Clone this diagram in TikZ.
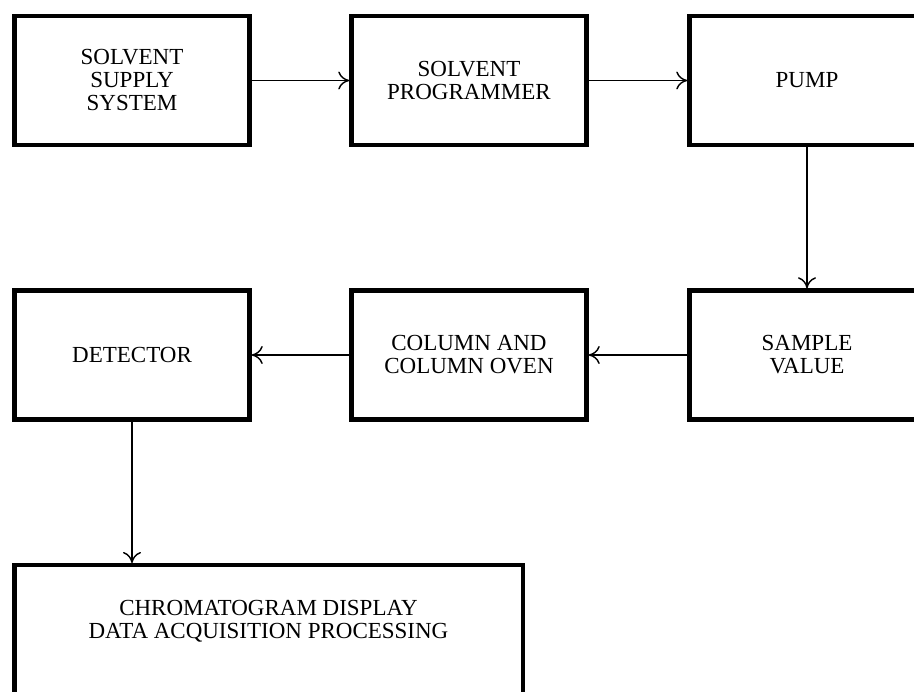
\documentclass[tikz,border=0pt]{standalone}
\usepackage{fontspec}
\setmainfont{Liberation Serif}
\usetikzlibrary{arrows.meta}
\begin{document}
\begin{tikzpicture}[x=1pt,y=-1pt,
  boxlook/.style={line width=4.5pt, line cap=rect},
  blockbox/.style={draw, boxlook, minimum width=235pt, minimum height=129pt,
    align=center, inner sep=0pt, font=\fontsize{23}{23}\selectfont},
  flow/.style={line width=1.3pt, -{Computer Modern Rightarrow[length=11pt,width=18pt,line width=1.4pt]}}]
\useasboundingbox (0,0) rectangle (914,692);
\clip (0,0) rectangle (914,692);
\node[blockbox] (supply) at (132,80.5) {SOLVENT\\SUPPLY\\SYSTEM};
\node[blockbox] (prog) at (469,80.5) {SOLVENT\\PROGRAMMER};
\node[blockbox] (pump) at (807,80.5) {PUMP};
\node[blockbox] (sample) at (807,355) {SAMPLE\\VALUE};
\node[blockbox] (column) at (469,355) {COLUMN AND\\COLUMN OVEN};
\node[blockbox] (detector) at (132,355) {DETECTOR};
\node[align=center, inner sep=0pt, outer sep=0pt, minimum width=508.5pt, minimum height=112pt,
  font=\fontsize{23}{23}\selectfont] (chrom) at (268.5,621.25)
  {CHROMATOGRAM DISPLAY\\DATA ACQUISITION PROCESSING};
\draw[boxlook] ([yshift=-90pt]chrom.south west) -- (chrom.north west)
  -- (chrom.north east) -- ([yshift=-90pt]chrom.south east);
\draw[flow] (supply.east) -- (prog.west);
\draw[flow] (prog.east) -- (pump.west);
\draw[flow] (pump.south) -- (sample.north);
\draw[flow] (sample.west) -- (column.east);
\draw[flow] (column.west) -- (detector.east);
\draw[flow] (detector.south) -- ([yshift=2.25pt]detector.south |- chrom.north);
\end{tikzpicture}
\end{document}
